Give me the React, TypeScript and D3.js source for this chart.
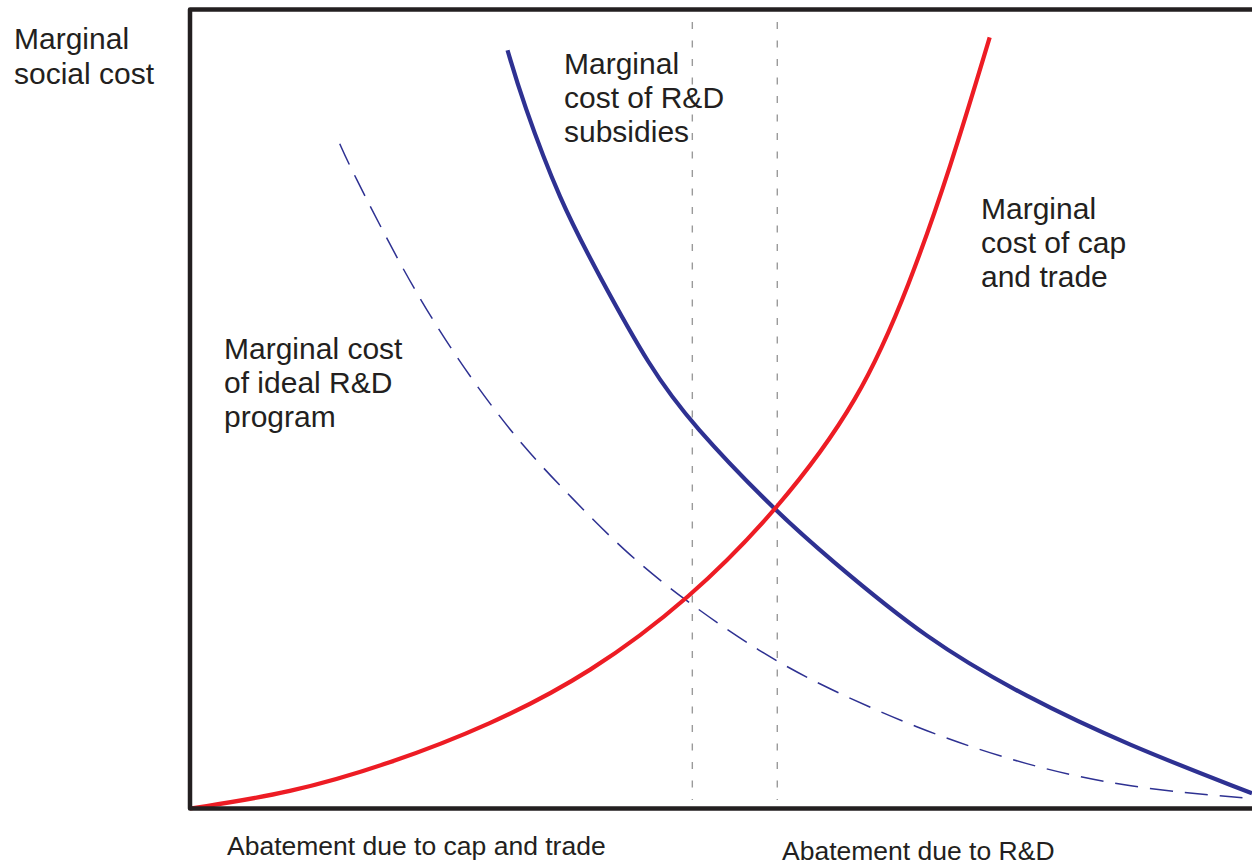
import React from "react";
import * as d3 from "d3";

// Data (abatement units 0-100, cost units 0-100)
const capTradeX = [0, 9.4, 18.8, 28.2, 37.7, 47.1, 55.3, 63.1, 67.8, 71.6, 75.3];
const capTradeY = [0, 1.9, 5.6, 10.4, 16.9, 26.3, 37.3, 51.1, 65.7, 80.2, 96.5];

const subsidyX = [29.9, 31.3, 34.8, 38.6, 43.3, 47.3, 55.3, 60.0, 69.4, 78.8, 88.2, 100];
const subsidyY = [94.9, 88.6, 76.1, 66.5, 55.2, 48.0, 37.0, 31.5, 21.1, 13.9, 8.0, 1.9];

const idealX = [14.1, 15.1, 19.8, 23.3, 27.1, 31.4, 36.0, 40.8, 46.4, 53.7, 60.0, 69.4, 78.8, 88.2, 100];
const idealY = [83.2, 80.2, 68.0, 60.1, 52.6, 45.2, 38.8, 32.3, 26.2, 19.5, 15.0, 9.5, 5.4, 2.6, 1.25];

const guideX = [47.3, 55.3];

const yAxisLabel = ["Marginal", "social cost"];
const subsidyLabel = ["Marginal", "cost of R&D", "subsidies"];
const capTradeLabel = ["Marginal", "cost of cap", "and trade"];
const idealLabel = ["Marginal cost", "of ideal R&D", "program"];
const xLabelCap = "Abatement due to cap and trade";
const xLabelRD = "Abatement due to R&D";

const W = 1252;
const H = 867;

export default function App() {
  const x = d3.scaleLinear().domain([0, 100]).range([190, 1252]);
  const y = d3.scaleLinear().domain([0, 100]).range([808.5, 9.5]);

  const line = d3
    .line<[number, number]>()
    .x((d) => x(d[0]))
    .y((d) => y(d[1]))
    .curve(d3.curveBasis);

  const zip = (a: number[], b: number[]) => a.map((v, i) => [v, b[i]] as [number, number]);

  const textColor = "#231f20";
  const font = "'Liberation Sans', Arial, Helvetica, sans-serif";

  const block = (lines: string[], x0: number, y0: number, size: number, lh: number) => (
    <text x={x0} y={y0} fontSize={size} fill={textColor} fontFamily={font}>
      {lines.map((l, i) => (
        <tspan key={i} x={x0} y={y0 + i * lh}>
          {l}
        </tspan>
      ))}
    </text>
  );

  return (
    <svg
      width={W}
      height={H}
      style={{ position: "absolute", left: 0, top: 0, background: "#fff" }}
    >
      <rect x={0} y={0} width={W} height={H} fill="#fff" />
      {/* guide lines */}
      {guideX.map((g, i) => (
        <line
          key={i}
          x1={x(g)}
          x2={x(g)}
          y1={22}
          y2={800}
          stroke="#9a9a9a"
          strokeWidth={1.4}
          strokeDasharray="7 11.5"
        />
      ))}
      {/* ideal R&D dashed */}
      <path
        d={line(zip(idealX, idealY)) || ""}
        fill="none"
        stroke="#2e3192"
        strokeWidth={1.5}
        strokeDasharray="23 12"
      />
      {/* subsidies */}
      <path
        d={line(zip(subsidyX, subsidyY)) || ""}
        fill="none"
        stroke="#2e3192"
        strokeWidth={4.2}
      />
      {/* cap and trade */}
      <path
        d={line(zip(capTradeX, capTradeY)) || ""}
        fill="none"
        stroke="#ed1c24"
        strokeWidth={4.2}
      />
      {/* frame */}
      <path
        d={`M${W + 5},${y(100)} L${x(0)},${y(100)} L${x(0)},${y(0)} L${W + 5},${y(0)}`}
        fill="none"
        stroke={textColor}
        strokeWidth={4.5}
        strokeLinejoin="round"
      />
      {block(yAxisLabel, 14, 49, 30, 34.5)}
      {block(subsidyLabel, 564, 74, 30, 34)}
      {block(capTradeLabel, 981, 219, 30, 34)}
      {block(idealLabel, 224, 359, 30, 34)}
      <text x={227} y={855} fontSize={26.5} fill={textColor} fontFamily={font}>
        {xLabelCap}
      </text>
      <text x={782} y={860} fontSize={26.5} fill={textColor} fontFamily={font}>
        {xLabelRD}
      </text>
    </svg>
  );
}
